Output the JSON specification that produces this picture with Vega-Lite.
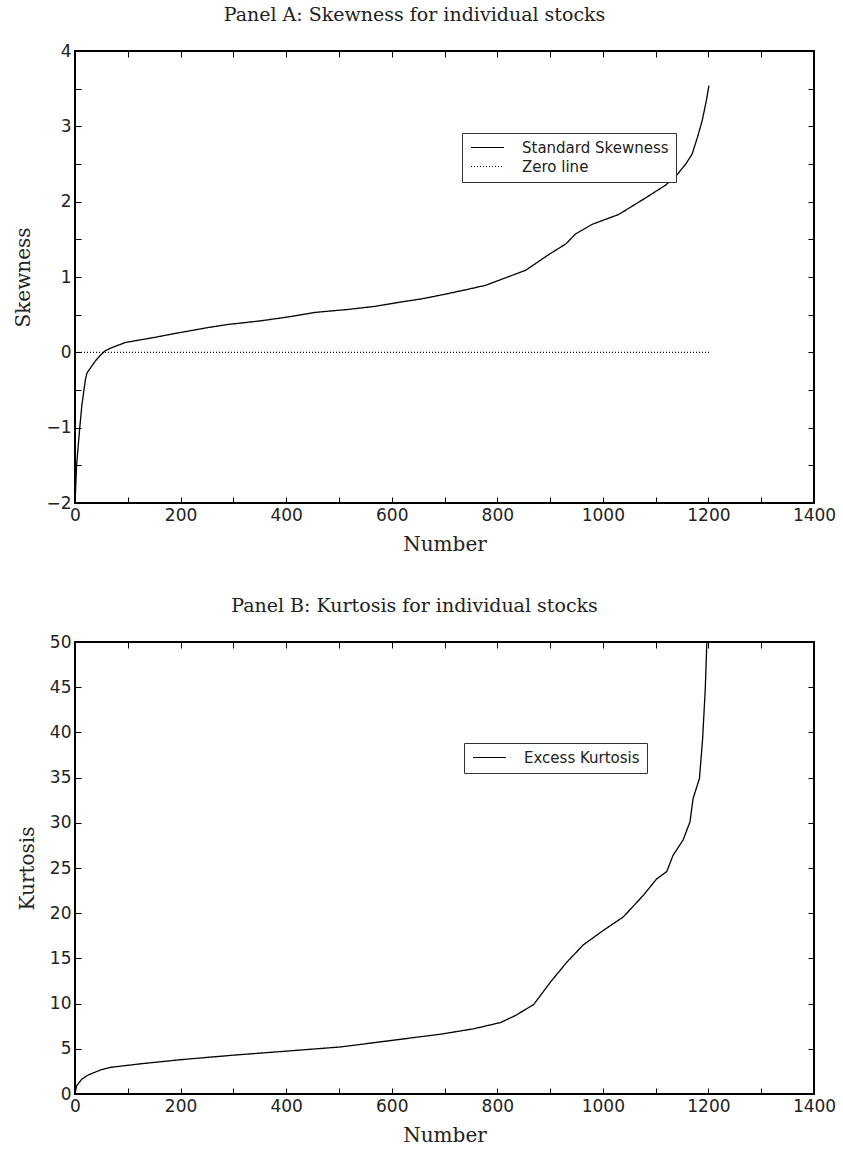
{
  "$schema": "https://vega.github.io/schema/vega-lite/v6.json",
  "padding": {"left": 12, "top": 5, "right": 8, "bottom": 5},
  "background": "white",
  "config": {
    "view": {"stroke": "black", "strokeWidth": 2},
    "axis": {
      "grid": false, "domain": false, "tickColor": "black", "tickSize": -6, "tickWidth": 1,
      "labelFont": "DejaVu Sans", "labelFontSize": 17, "labelColor": "#222",
      "titleFont": "DejaVu Serif", "titleFontSize": 20, "titleFontWeight": "normal", "titleColor": "#222"
    },
    "title": {"font": "DejaVu Serif", "fontSize": 19, "fontWeight": "normal", "color": "#222", "offset": 17, "dx": -30},
    "legend": {
      "orient": "none", "strokeColor": "#333", "fillColor": "white", "padding": 7,
      "labelFont": "DejaVu Sans", "labelFontSize": 15, "labelColor": "#222",
      "symbolType": "M-3,0H3", "symbolSize": 121, "symbolStrokeWidth": 1, "symbolStrokeColor": "black",
      "symbolOffset": 11, "labelOffset": 27, "rowPadding": 3, "title": null
    }
  },
  "datasets": {
    "skew": [
      {"n": 0, "v": -2.0, "series": "Standard Skewness"},
      {"n": 1, "v": -1.85, "series": "Standard Skewness"},
      {"n": 3, "v": -1.5, "series": "Standard Skewness"},
      {"n": 6, "v": -1.25, "series": "Standard Skewness"},
      {"n": 9, "v": -1.0, "series": "Standard Skewness"},
      {"n": 13, "v": -0.7, "series": "Standard Skewness"},
      {"n": 17, "v": -0.5, "series": "Standard Skewness"},
      {"n": 20, "v": -0.35, "series": "Standard Skewness"},
      {"n": 23, "v": -0.27, "series": "Standard Skewness"},
      {"n": 30, "v": -0.2, "series": "Standard Skewness"},
      {"n": 39, "v": -0.11, "series": "Standard Skewness"},
      {"n": 48, "v": -0.04, "series": "Standard Skewness"},
      {"n": 57, "v": 0.02, "series": "Standard Skewness"},
      {"n": 69, "v": 0.06, "series": "Standard Skewness"},
      {"n": 95, "v": 0.13, "series": "Standard Skewness"},
      {"n": 152, "v": 0.2, "series": "Standard Skewness"},
      {"n": 189, "v": 0.25, "series": "Standard Skewness"},
      {"n": 253, "v": 0.33, "series": "Standard Skewness"},
      {"n": 290, "v": 0.37, "series": "Standard Skewness"},
      {"n": 354, "v": 0.42, "series": "Standard Skewness"},
      {"n": 404, "v": 0.47, "series": "Standard Skewness"},
      {"n": 455, "v": 0.53, "series": "Standard Skewness"},
      {"n": 518, "v": 0.57, "series": "Standard Skewness"},
      {"n": 568, "v": 0.61, "series": "Standard Skewness"},
      {"n": 619, "v": 0.67, "series": "Standard Skewness"},
      {"n": 657, "v": 0.71, "series": "Standard Skewness"},
      {"n": 700, "v": 0.77, "series": "Standard Skewness"},
      {"n": 740, "v": 0.83, "series": "Standard Skewness"},
      {"n": 778, "v": 0.89, "series": "Standard Skewness"},
      {"n": 816, "v": 0.99, "series": "Standard Skewness"},
      {"n": 854, "v": 1.09, "series": "Standard Skewness"},
      {"n": 898, "v": 1.3, "series": "Standard Skewness"},
      {"n": 930, "v": 1.44, "series": "Standard Skewness"},
      {"n": 948, "v": 1.57, "series": "Standard Skewness"},
      {"n": 980, "v": 1.7, "series": "Standard Skewness"},
      {"n": 1030, "v": 1.83, "series": "Standard Skewness"},
      {"n": 1081, "v": 2.05, "series": "Standard Skewness"},
      {"n": 1119, "v": 2.22, "series": "Standard Skewness"},
      {"n": 1141, "v": 2.36, "series": "Standard Skewness"},
      {"n": 1157, "v": 2.5, "series": "Standard Skewness"},
      {"n": 1169, "v": 2.63, "series": "Standard Skewness"},
      {"n": 1179, "v": 2.85, "series": "Standard Skewness"},
      {"n": 1188, "v": 3.07, "series": "Standard Skewness"},
      {"n": 1196, "v": 3.34, "series": "Standard Skewness"},
      {"n": 1201, "v": 3.54, "series": "Standard Skewness"},
      {"n": 0, "v": 0, "series": "Zero line"},
      {"n": 1201, "v": 0, "series": "Zero line"}
    ],
    "kurt": [
      {"n": 0, "v": 0, "series": "Excess Kurtosis"},
      {"n": 3, "v": 0.9, "series": "Excess Kurtosis"},
      {"n": 13, "v": 1.65, "series": "Excess Kurtosis"},
      {"n": 25, "v": 2.1, "series": "Excess Kurtosis"},
      {"n": 50, "v": 2.7, "series": "Excess Kurtosis"},
      {"n": 69, "v": 2.96, "series": "Excess Kurtosis"},
      {"n": 126, "v": 3.35, "series": "Excess Kurtosis"},
      {"n": 201, "v": 3.8, "series": "Excess Kurtosis"},
      {"n": 301, "v": 4.3, "series": "Excess Kurtosis"},
      {"n": 402, "v": 4.75, "series": "Excess Kurtosis"},
      {"n": 502, "v": 5.2, "series": "Excess Kurtosis"},
      {"n": 603, "v": 5.95, "series": "Excess Kurtosis"},
      {"n": 691, "v": 6.6, "series": "Excess Kurtosis"},
      {"n": 754, "v": 7.2, "series": "Excess Kurtosis"},
      {"n": 806, "v": 7.9, "series": "Excess Kurtosis"},
      {"n": 835, "v": 8.7, "series": "Excess Kurtosis"},
      {"n": 869, "v": 9.9, "series": "Excess Kurtosis"},
      {"n": 901, "v": 12.4, "series": "Excess Kurtosis"},
      {"n": 932, "v": 14.6, "series": "Excess Kurtosis"},
      {"n": 963, "v": 16.5, "series": "Excess Kurtosis"},
      {"n": 1001, "v": 18.1, "series": "Excess Kurtosis"},
      {"n": 1039, "v": 19.6, "series": "Excess Kurtosis"},
      {"n": 1077, "v": 22.0, "series": "Excess Kurtosis"},
      {"n": 1102, "v": 23.8, "series": "Excess Kurtosis"},
      {"n": 1121, "v": 24.6, "series": "Excess Kurtosis"},
      {"n": 1133, "v": 26.4, "series": "Excess Kurtosis"},
      {"n": 1152, "v": 28.1, "series": "Excess Kurtosis"},
      {"n": 1165, "v": 30.1, "series": "Excess Kurtosis"},
      {"n": 1171, "v": 32.7, "series": "Excess Kurtosis"},
      {"n": 1183, "v": 34.9, "series": "Excess Kurtosis"},
      {"n": 1189, "v": 39.3, "series": "Excess Kurtosis"},
      {"n": 1194, "v": 44.8, "series": "Excess Kurtosis"},
      {"n": 1197, "v": 50.0, "series": "Excess Kurtosis"}
    ]
  },
  "spacing": 41,
  "resolve": {"scale": {"strokeDash": "independent"}, "legend": {"strokeDash": "independent"}},
  "vconcat": [
    {
      "title": "Panel A: Skewness for individual stocks",
      "width": 739, "height": 452,
      "data": {"name": "skew"},
      "layer": [
        {
          "mark": {"type": "line", "color": "black", "strokeWidth": 1.3},
          "encoding": {
            "x": {"field": "n", "type": "quantitative", "scale": {"domain": [0, 1400], "nice": false},
              "axis": {"values": [0,100,200,300,400,500,600,700,800,900,1000,1100,1200,1300,1400], "labelExpr": "datum.value % 200 == 0 ? format(datum.value, 'd') : ''", "title": "Number", "labelPadding": 10, "titlePadding": 11, "labelFlush": false}},
            "y": {"field": "v", "type": "quantitative", "scale": {"domain": [-2, 4], "nice": false},
              "axis": {"values": [-2,-1.5,-1,-0.5,0,0.5,1,1.5,2,2.5,3,3.5,4], "labelExpr": "datum.value % 1 == 0 ? format(datum.value, 'd') : ''", "title": "Skewness", "labelPadding": 10, "titlePadding": 12}},
            "strokeDash": {"field": "series", "type": "nominal",
              "scale": {"domain": ["Standard Skewness", "Zero line"], "range": [[1, 0], [1, 2]]},
              "legend": {"legendX": 387, "legendY": 82}},
            "detail": {"field": "series"}
          }
        },
        {
          "mark": {"type": "line", "opacity": 0},
          "encoding": {
            "x": {"field": "n", "type": "quantitative", "axis": {"orient": "top", "values": [0,100,200,300,400,500,600,700,800,900,1000,1100,1200,1300,1400], "labels": false, "title": null}},
            "y": {"field": "v", "type": "quantitative", "axis": {"orient": "right", "values": [-2,-1.5,-1,-0.5,0,0.5,1,1.5,2,2.5,3,3.5,4], "labels": false, "title": null}}
          }
        }
      ],
      "resolve": {"axis": {"x": "independent", "y": "independent"}}
    },
    {
      "title": "Panel B: Kurtosis for individual stocks",
      "width": 739, "height": 452,
      "data": {"name": "kurt"},
      "layer": [
        {
          "mark": {"type": "line", "color": "black", "strokeWidth": 1.3, "clip": true},
          "encoding": {
            "x": {"field": "n", "type": "quantitative", "scale": {"domain": [0, 1400], "nice": false},
              "axis": {"values": [0,100,200,300,400,500,600,700,800,900,1000,1100,1200,1300,1400], "labelExpr": "datum.value % 200 == 0 ? format(datum.value, 'd') : ''", "title": "Number", "labelPadding": 10, "titlePadding": 11, "labelFlush": false}},
            "y": {"field": "v", "type": "quantitative", "scale": {"domain": [0, 50], "nice": false},
              "axis": {"values": [0,5,10,15,20,25,30,35,40,45,50], "title": "Kurtosis", "labelPadding": 10, "titlePadding": 12}},
            "strokeDash": {"field": "series", "type": "nominal",
              "scale": {"domain": ["Excess Kurtosis"], "range": [[1, 0]]},
              "legend": {"legendX": 389, "legendY": 101}}
          }
        },
        {
          "mark": {"type": "line", "opacity": 0},
          "encoding": {
            "x": {"field": "n", "type": "quantitative", "axis": {"orient": "top", "values": [0,100,200,300,400,500,600,700,800,900,1000,1100,1200,1300,1400], "labels": false, "title": null}},
            "y": {"field": "v", "type": "quantitative", "axis": {"orient": "right", "values": [0,5,10,15,20,25,30,35,40,45,50], "labels": false, "title": null}}
          }
        }
      ],
      "resolve": {"axis": {"x": "independent", "y": "independent"}}
    }
  ]
}
